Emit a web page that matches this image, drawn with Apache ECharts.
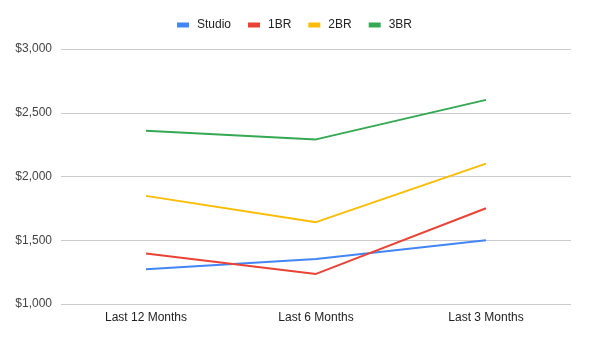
<!DOCTYPE html>
<html><head><meta charset="utf-8">
<script src="https://cdn.jsdelivr.net/npm/echarts@6/dist/echarts.min.js"></script>
<style>html,body{margin:0;padding:0;background:#fff}#c{width:589px;height:342px}</style>
</head><body><div id="c"></div>
<script>
const categories = ['Last 12 Months', 'Last 6 Months', 'Last 3 Months'];
const studio = [1272, 1353, 1500];
const br1 = [1397, 1236, 1751];
const br2 = [1848, 1642, 2101];
const br3 = [2358, 2291, 2601];
const seriesNames = ['Studio', '1BR', '2BR', '3BR'];
const colors = ['#4285F4', '#EA4335', '#FBBC04', '#34A853'];

const chart = echarts.init(document.getElementById('c'));
const font = 'Liberation Sans, Arial, sans-serif';
const mk = (name, data, i) => ({
  name, type: 'line', data, symbol: 'none', smooth: false,
  lineStyle: { width: 2, color: colors[i] }, itemStyle: { color: colors[i] }
});
chart.setOption({
  animation: false,
  textStyle: { fontFamily: font },
  legend: {
    top: 14, left: 'center', itemWidth: 12, itemHeight: 5, itemGap: 17,
    icon: 'rect',
    textStyle: { fontFamily: font, fontSize: 12, color: '#222', padding: [0, 0, 0, 3] },
    data: seriesNames
  },
  grid: { left: 61, right: 18, top: 49, bottom: 38 },
  xAxis: {
    type: 'category', data: categories, boundaryGap: true,
    axisLine: { show: false }, axisTick: { show: false },
    axisLabel: { fontFamily: font, fontSize: 12, color: '#222', margin: 8 }
  },
  yAxis: {
    type: 'value', min: 1000, max: 3000, interval: 500,
    axisLine: { show: false }, axisTick: { show: false },
    splitLine: { lineStyle: { color: '#cccccc', width: 1 } },
    axisLabel: { fontFamily: font, fontSize: 12, color: '#444', margin: 9,
      formatter: v => '$' + v.toLocaleString('en-US') }
  },
  series: [mk('Studio', studio, 0), mk('1BR', br1, 1), mk('2BR', br2, 2), mk('3BR', br3, 3)]
});
</script></body></html>
